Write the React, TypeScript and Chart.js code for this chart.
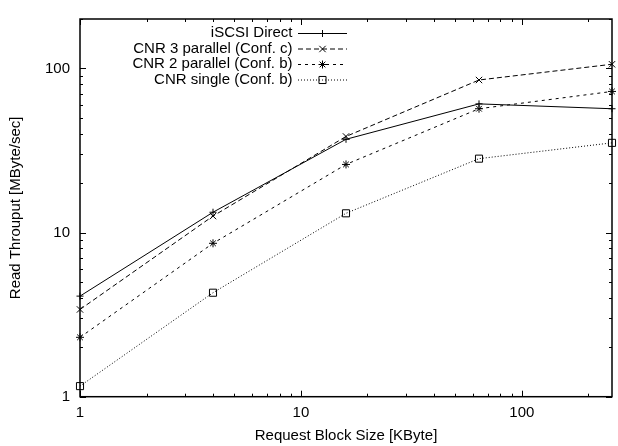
import React, { useEffect, useRef } from "react";
import { Chart, registerables } from "chart.js";
import { drawPoint } from "chart.js/helpers";

Chart.register(...registerables);

const blockSizes = [1, 4, 16, 64, 256];
const iscsiDirect = [4.1, 13.3, 37, 60.8, 56.8];
const cnr3Parallel = [3.4, 12.6, 38.5, 85, 106];
const cnr2Parallel = [2.3, 8.6, 26, 56.8, 72.4];
const cnrSingle = [1.16, 4.3, 13.1, 28.2, 35.2];

const seriesNames = [
  "iSCSI Direct",
  "CNR 3 parallel (Conf. c)",
  "CNR 2 parallel (Conf. b)",
  "CNR single (Conf. b)",
];

const xMajorTicks = [1, 10, 100];
const xMinorTicks = [2, 3, 4, 5, 6, 7, 8, 9, 20, 30, 40, 50, 60, 70, 80, 90, 200];
const yMajorTicks = [1, 10, 100];
const yMinorTicks = [2, 3, 4, 5, 6, 7, 8, 9, 20, 30, 40, 50, 60, 70, 80, 90, 200];

const xTitle = "Request Block Size [KByte]";
const yTitle = "Read Throuput [MByte/sec]";

const FONT = "'Liberation Sans', Arial, Helvetica, sans-serif";

const toPoints = (ys: number[]) => blockSizes.map((x, i) => ({ x, y: ys[i] }));

const frameLegendPlugin = {
  id: "frameLegend",
  afterDraw(chart: any) {
    const ctx = chart.ctx;
    const { left, right, top, bottom } = chart.chartArea;
    const xs = chart.scales.x;
    const ys = chart.scales.y;
    ctx.save();
    ctx.strokeStyle = "#000";
    ctx.lineWidth = 1;
    ctx.setLineDash([]);
    const major = 6;
    const minor = 3;
    ctx.beginPath();
    const xt = (v: number, len: number) => {
      const p = Math.round(xs.getPixelForValue(v)) + 0.5;
      ctx.moveTo(p, bottom);
      ctx.lineTo(p, bottom - len);
      ctx.moveTo(p, top);
      ctx.lineTo(p, top + len);
    };
    const yt = (v: number, len: number) => {
      const p = Math.round(ys.getPixelForValue(v)) + 0.5;
      ctx.moveTo(left, p);
      ctx.lineTo(left + len, p);
      ctx.moveTo(right, p);
      ctx.lineTo(right - len, p);
    };
    xMajorTicks.forEach((v) => xt(v, major));
    xMinorTicks.forEach((v) => xt(v, minor));
    yMajorTicks.forEach((v) => yt(v, major));
    yMinorTicks.forEach((v) => yt(v, minor));
    ctx.stroke();
    ctx.lineWidth = 1.5;
    ctx.strokeRect(left, top, right - left, bottom - top);

    // legend
    const textRight = 292.5;
    const lineStart = 298;
    const lineEnd = 347;
    const rowY = [33, 48.5, 64, 79.5];
    ctx.font = `15px ${FONT}`;
    ctx.textAlign = "right";
    ctx.textBaseline = "middle";
    ctx.fillStyle = "#000";
    chart.data.datasets.forEach((ds: any, i: number) => {
      const y = rowY[i];
      ctx.fillText(ds.label, textRight, y);
      ctx.beginPath();
      ctx.lineWidth = ds.borderWidth;
      ctx.strokeStyle = ds.borderColor;
      ctx.setLineDash(ds.borderDash || []);
      ctx.moveTo(lineStart, y + 0.5);
      ctx.lineTo(lineEnd, y + 0.5);
      ctx.stroke();
      ctx.setLineDash([]);
      ctx.lineWidth = 1;
      ctx.strokeStyle = "#000";
      ctx.fillStyle = "rgba(0,0,0,0)";
      drawPoint(
        ctx,
        { pointStyle: ds.pointStyle, radius: ds.pointRadius, borderWidth: 1, rotation: 0 } as any,
        (lineStart + lineEnd) / 2,
        y + 0.5
      );
      ctx.fillStyle = "#000";
    });
    ctx.restore();
  },
};

export default function App() {
  const ref = useRef<HTMLCanvasElement | null>(null);
  useEffect(() => {
    document.body.style.margin = "0";
    const canvas = ref.current;
    if (!canvas) return;
    const common = {
      borderColor: "#000",
      borderWidth: 1,
      backgroundColor: "rgba(0,0,0,0)",
      pointBorderColor: "#000",
      pointBackgroundColor: "rgba(0,0,0,0)",
      pointBorderWidth: 1,
      clip: false as any,
      tension: 0,
    };
    const chart = new Chart(canvas, {
      type: "line",
      data: {
        datasets: [
          { ...common, label: seriesNames[0], data: toPoints(iscsiDirect), pointStyle: "cross", pointRadius: 3.5, borderDash: [] },
          { ...common, label: seriesNames[1], data: toPoints(cnr3Parallel), pointStyle: "crossRot", pointRadius: 4.5, borderDash: [5, 3] },
          { ...common, label: seriesNames[2], data: toPoints(cnr2Parallel), pointStyle: "star", pointRadius: 4, borderDash: [3, 4] },
          { ...common, label: seriesNames[3], data: toPoints(cnrSingle), pointStyle: "rect", pointRadius: 5, borderDash: [1, 2] },
        ] as any,
      },
      options: {
        animation: false,
        responsive: false,
        maintainAspectRatio: false,
        layout: { padding: { left: 0, right: 2.5, top: 12.7, bottom: 0 } },
        plugins: { legend: { display: false }, tooltip: { enabled: false } },
        scales: {
          x: {
            type: "logarithmic",
            min: 1,
            max: 256,
            bounds: "data",
            afterBuildTicks: (s: any) => {
              s.ticks = [...xMajorTicks, ...xMinorTicks].sort((a, b) => a - b).map((v) => ({ value: v }));
            },
            afterFit: (s: any) => {
              s.height = 49.3;
            },
            grid: { display: false, drawTicks: false },
            border: { display: false },
            ticks: {
              autoSkip: false,
              maxRotation: 0,
              padding: 7,
              color: "#000",
              font: { family: FONT, size: 15 },
              callback: (v: any) => (xMajorTicks.includes(Number(v)) ? String(v) : ""),
            },
            title: {
              display: true,
              text: xTitle,
              color: "#000",
              font: { family: FONT, size: 15 },
              padding: { top: 0, bottom: 1.5 },
            },
          },
          y: {
            type: "logarithmic",
            min: 1,
            max: 200,
            bounds: "data",
            afterBuildTicks: (s: any) => {
              s.ticks = [...yMajorTicks, ...yMinorTicks].sort((a, b) => a - b).map((v) => ({ value: v }));
            },
            afterFit: (s: any) => {
              s.width = 80;
            },
            grid: { display: false, drawTicks: false },
            border: { display: false },
            ticks: {
              autoSkip: false,
              padding: 10,
              color: "#000",
              font: { family: FONT, size: 15 },
              callback: (v: any) => (yMajorTicks.includes(Number(v)) ? String(v) : ""),
            },
            title: {
              display: true,
              text: yTitle,
              color: "#000",
              font: { family: FONT, size: 15 },
              padding: { top: 7, bottom: 0 },
            },
          },
        },
      } as any,
      plugins: [frameLegendPlugin],
    });
    return () => chart.destroy();
  }, []);
  return (
    <div style={{ width: 618, height: 446 }}>
      <canvas ref={ref} width={618} height={446} style={{ display: "block", width: 618, height: 446 }} />
    </div>
  );
}
